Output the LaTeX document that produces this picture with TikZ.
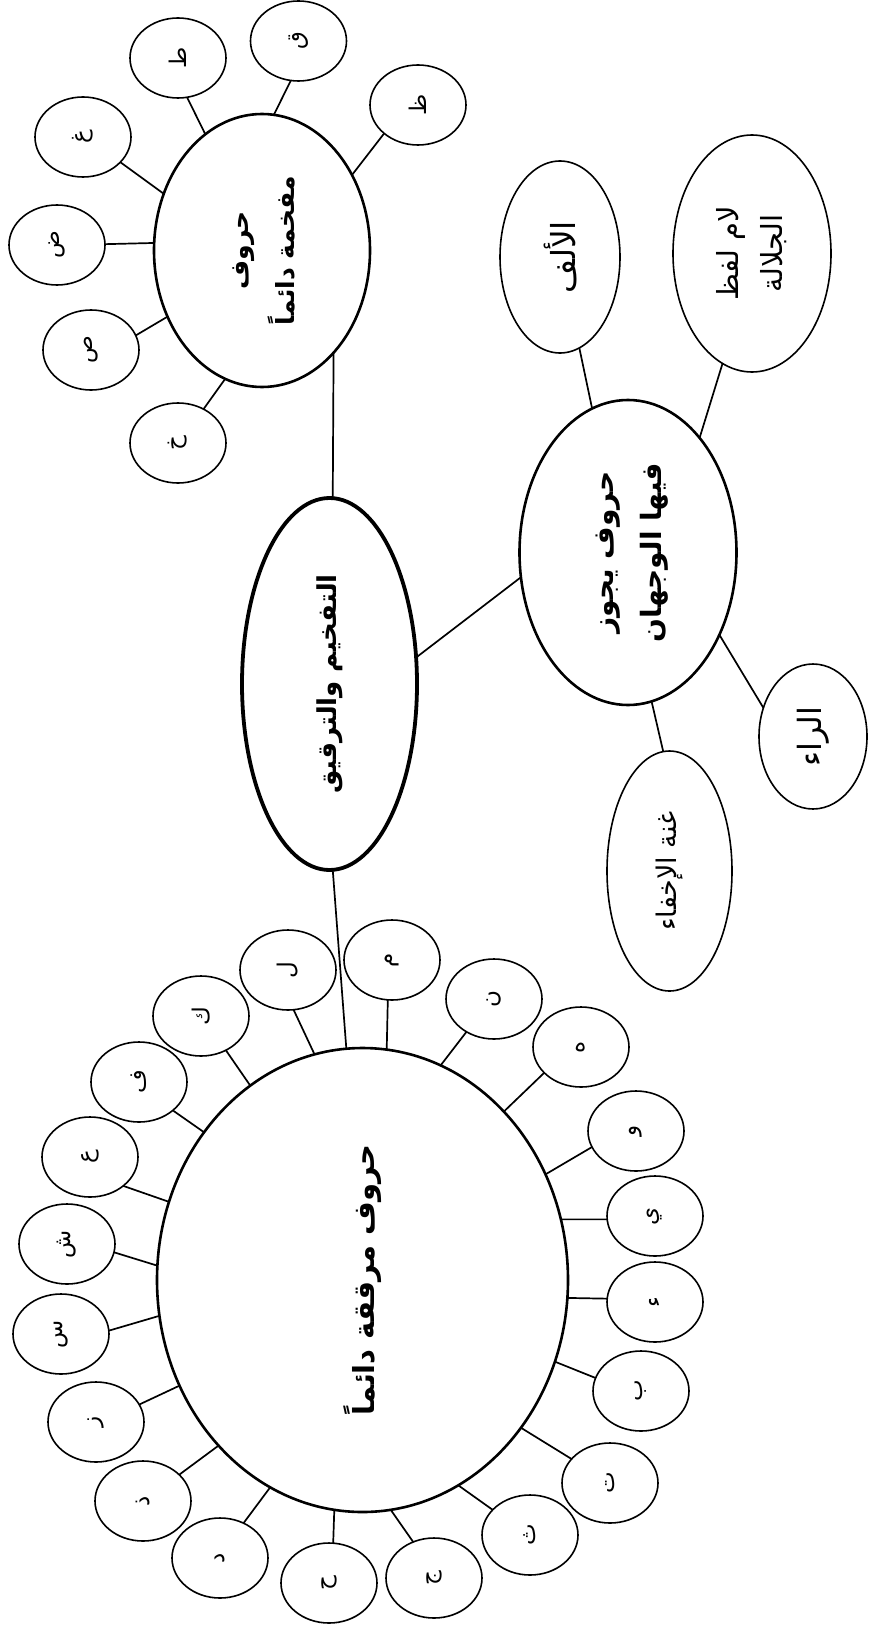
\documentclass[tikz,border=0pt]{standalone}
\usepackage{fontspec}
\usepackage{graphicx}
\newfontfamily\arabicfont[Script=Arabic]{DejaVu Sans}
\TeXXeTstate=1
\usetikzlibrary{shapes.geometric}
\newcommand\rtxt[1]{\rotatebox{90}{#1}}
\newcommand\rtwo[2]{\rotatebox{90}{\begin{tabular}{@{}c@{}}#1\\#2\end{tabular}}}
\begin{document}
\begin{tikzpicture}[x=1pt,y=-1pt,
  ell/.style={ellipse,draw,inner sep=0pt,outer sep=0pt},
  hub/.style={ell,line width=3.8pt,font=\arabicfont\bfseries\fontsize{26}{32}\selectfont},
  main/.style={ell,line width=2.6pt,font=\arabicfont\bfseries\fontsize{25}{46}\selectfont},
  sub/.style={ell,line width=1.6pt,font=\arabicfont\fontsize{29}{44}\selectfont},
  letter/.style={ell,line width=1.6pt,minimum width=96pt,minimum height=80pt,font=\arabicfont\fontsize{23}{26}\selectfont},
  link/.style={line width=1.7pt}]
\useasboundingbox (0,0) rectangle (868,1629);
% main nodes
\node[hub,minimum width=175pt,minimum height=372pt] (hub) at (329.5,684) {\rtxt{\beginR التفخيم والترقيق\endR}};
\node[main,minimum width=216pt,minimum height=273pt] (thick) at (262,250.5) {\rtwo{\beginR حروف\endR}{\beginR مفخمة دائماً\endR}};
\node[main,minimum width=217pt,minimum height=305pt,font=\arabicfont\bfseries\fontsize{28}{48}\selectfont] (both) at (628,552.5) {\rtwo{\beginR حروف يجوز\endR}{\beginR فيها الوجهان\endR}};
\node[main,minimum width=411pt,minimum height=464pt,font=\arabicfont\bfseries\fontsize{29}{34}\selectfont] (thin) at (362.5,1280) {\rtxt{\beginR حروف مرققة دائماً\endR}};
% sub nodes of both
\node[sub,minimum width=120pt,minimum height=192pt,font=\arabicfont\fontsize{33}{38}\selectfont] (alif) at (560,257) {\rtxt{\beginR الألف\endR}};
\node[sub,minimum width=158pt,minimum height=237pt] (lam) at (752,253.5) {\rtwo{\beginR لام لفظ\endR}{\beginR الجلالة\endR}};
\node[sub,minimum width=108pt,minimum height=145pt,font=\arabicfont\fontsize{32}{36}\selectfont] (raa) at (813,736.5) {\rtxt{\beginR الراء\endR}};
\node[sub,minimum width=125pt,minimum height=240pt,font=\arabicfont\fontsize{27}{32}\selectfont] (ghunna) at (669.5,871) {\rtxt{\beginR غنة الإخفاء\endR}};
% letters of thick
\node[letter] (tzaa) at (418,105) {\rtxt{\beginR ظ\endR}};
\node[letter] (tqaf) at (298.5,41) {\rtxt{\beginR ق\endR}};
\node[letter] (ttaa) at (178,58) {\rtxt{\beginR ط\endR}};
\node[letter] (tghain) at (83,137) {\rtxt{\beginR غ\endR}};
\node[letter] (tdad) at (57,245) {\rtxt{\beginR ض\endR}};
\node[letter] (tsad) at (91,350) {\rtxt{\beginR ص\endR}};
\node[letter] (tkha) at (178,443) {\rtxt{\beginR خ\endR}};
% letters of thin
\node[letter] (m) at (392,960) {\rtxt{\beginR م\endR}};
\node[letter] (l) at (288,970) {\rtxt{\beginR ل\endR}};
\node[letter] (k) at (201,1016) {\rtxt{\beginR ك\endR}};
\node[letter] (f) at (139,1082) {\rtxt{\beginR ف\endR}};
\node[letter] (ain) at (90,1157) {\rtxt{\beginR ع\endR}};
\node[letter] (shin) at (67,1244) {\rtxt{\beginR ش\endR}};
\node[letter] (sin) at (61,1334) {\rtxt{\beginR س\endR}};
\node[letter] (zay) at (96,1422) {\rtxt{\beginR ز\endR}};
\node[letter] (dhal) at (143,1501) {\rtxt{\beginR ذ\endR}};
\node[letter] (dal) at (220,1558) {\rtxt{\beginR د\endR}};
\node[letter] (haa) at (329,1583) {\rtxt{\beginR ح\endR}};
\node[letter] (jim) at (434,1578) {\rtxt{\beginR ج\endR}};
\node[letter] (tha) at (530,1535) {\rtxt{\beginR ث\endR}};
\node[letter] (ta) at (610,1483) {\rtxt{\beginR ت\endR}};
\node[letter] (ba) at (641,1391) {\rtxt{\beginR ب\endR}};
\node[letter] (hamza) at (655,1302) {\rtxt{\beginR ء\endR}};
\node[letter] (ya) at (655,1216) {\rtxt{\beginR ي\endR}};
\node[letter] (waw) at (636,1131) {\rtxt{\beginR و\endR}};
\node[letter] (ha) at (581,1047) {\rtxt{\beginR ه\endR}};
\node[letter] (nun) at (494,999) {\rtxt{\beginR ن\endR}};
% connectors
\draw[link] (hub.89) -- (thick.-55);
\draw[link] (hub.-89) -- (thin.94);
\draw[link] (hub.17) -- (both.193);
\draw[link] (both.104) -- (alif.-78);
\draw[link] (both.58) -- (lam.-105);
\draw[link] (both.-42) -- (raa.150);
\draw[link] (both.-81) -- (ghunna.93);
\draw[link] (thick.40) -- (tzaa.220);
\draw[link] (thick.85) -- (tqaf.259);
\draw[link] (thick.116) -- (ttaa.-77);
\draw[link] (thick.150) -- (tghain.-34);
\draw[link] (thick.176) -- (tdad.1);
\draw[link] (thick.215) -- (tsad.18);
\draw[link] (thick.254) -- (tkha.53);
\draw[link] (thin.84) -- (m.264);
\draw[link] (thin.102) -- (l.-82);
\draw[link] (thin.120) -- (k.-54);
\draw[link] (thin.137) -- (f.-40);
\draw[link] (thin.158) -- (ain.-41);
\draw[link] (thin.176) -- (shin.-10);
\draw[link] (thin.190) -- (sin.4);
\draw[link] (thin.210) -- (zay.22);
\draw[link] (thin.229) -- (dhal.36);
\draw[link] (thin.246) -- (dal.56);
\draw[link] (thin.263) -- (haa.84);
\draw[link] (thin.277) -- (jim.120);
\draw[link] (thin.295) -- (tha.146);
\draw[link] (thin.317) -- (ta.148);
\draw[link] (thin.337) -- (ba.164);
\draw[link] (thin.355) -- (hamza.176);
\draw[link] (thin.17) -- (ya.184);
\draw[link] (thin.30) -- (waw.200);
\draw[link] (thin.50) -- (ha.215);
\draw[link] (thin.70) -- (nun.230);
\end{tikzpicture}
\end{document}
